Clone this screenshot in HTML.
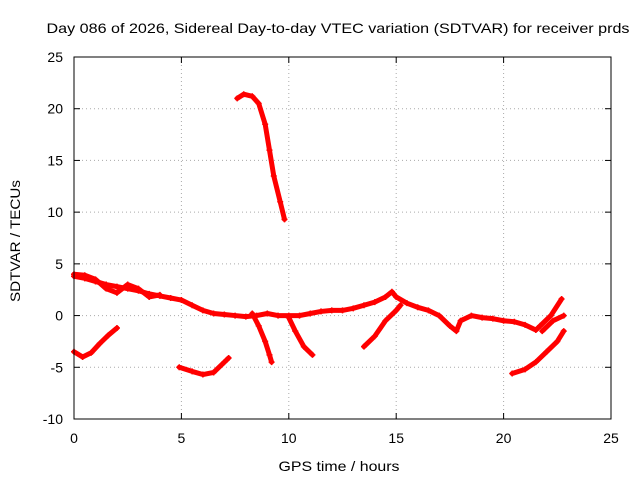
<!DOCTYPE html>
<html><head><meta charset="utf-8"><style>
body{margin:0;background:#fff}
svg{display:block;font-family:"Liberation Sans",sans-serif}
</style></head><body>
<svg id="chart" width="640" height="480">
<text x="338" y="33" text-anchor="middle" font-size="14" textLength="583" lengthAdjust="spacingAndGlyphs">Day 086 of 2026, Sidereal Day-to-day VTEC variation (SDTVAR) for receiver prds</text>
<text x="339" y="471" text-anchor="middle" font-size="14" textLength="121" lengthAdjust="spacingAndGlyphs">GPS time / hours</text>
<text transform="translate(20,241) rotate(-90)" text-anchor="middle" font-size="14" textLength="122" lengthAdjust="spacingAndGlyphs">SDTVAR / TECUs</text>
<g id="grid"></g><g id="ticks"></g><g id="marks"></g>
<rect x="74" y="57" width="537" height="362" fill="none" stroke="#000"/>
</svg>
<script>
const xTicks=[0,5,10,15,20,25];
const yTicks=[-10,-5,0,5,10,15,20,25];
const s1=[[0,3.8],[0.5,3.6],[1,3.3],[1.5,3.0],[2,2.8],[2.5,2.6],[3,2.4],[3.5,2.1],[4,1.9],[4.5,1.7],[5,1.5],[5.5,1.0],[6,0.5],[6.5,0.2],[7,0.1],[7.5,0],[8,-0.1],[8.5,0],[9,0.2],[9.5,0],[10,0],[10.5,0],[11,0.2],[11.5,0.4],[12,0.5],[12.5,0.5],[13,0.7],[13.5,1.0],[14,1.3],[14.5,1.8],[14.8,2.3],[15,1.8],[15.5,1.2],[16,0.8],[16.5,0.5],[17,0],[17.5,-1],[17.8,-1.5],[18,-0.5],[18.5,0],[19,-0.2],[19.5,-0.3],[20,-0.5],[20.5,-0.6],[21,-0.9],[21.5,-1.4],[21.7,-1.0],[22.2,0],[22.7,1.6]];
const s1b=[[0,4.0],[0.5,3.9],[1,3.5],[1.5,2.6],[2,2.2],[2.5,3.0],[3,2.6],[3.5,1.8],[4,2.0]];
const s2=[[0,-3.5],[0.4,-4.0],[0.8,-3.6],[1.2,-2.7],[1.6,-1.9],[2,-1.2]];
const s3=[[4.9,-5.0],[5.5,-5.4],[6,-5.7],[6.5,-5.5],[7,-4.5],[7.2,-4.1]];
const s4=[[7.6,21],[7.9,21.4],[8.3,21.2],[8.6,20.5],[8.9,18.5],[9.1,16],[9.3,13.5],[9.6,11],[9.8,9.3]];
const s5=[[8.3,0.2],[8.6,-1],[8.9,-2.5],[9.1,-3.8],[9.2,-4.5]];
const s6=[[10,-0.2],[10.3,-1.5],[10.7,-3],[11.1,-3.8]];
const s7=[[13.5,-3],[14,-2],[14.5,-0.5],[15,0.5],[15.2,1]];
const s8=[[20.4,-5.6],[21,-5.2],[21.5,-4.5],[22,-3.5],[22.5,-2.5],[22.8,-1.5]];
const s9=[[21.8,-1.5],[22.3,-0.5],[22.8,0]];
const series=[s1,s1b,s2,s3,s4,s5,s6,s7,s8,s9];
const X=v=>74+(v-0)/25*537;
const Y=v=>419-(v+10)/35*362;
const NS="http://www.w3.org/2000/svg";
function mk(t,a,p){const e=document.createElementNS(NS,t);for(const k in a)e.setAttribute(k,a[k]);p.appendChild(e);return e;}
const grid=document.getElementById('grid'),ticks=document.getElementById('ticks'),marks=document.getElementById('marks');
xTicks.forEach(t=>{const x=X(t);
 if(t>0&&t<25){const g=mk('line',{x1:x,x2:x,y1:57,y2:419,stroke:'#aaa','stroke-dasharray':'1,3'},grid);
 
 }
 mk('line',{x1:x,x2:x,y1:419,y2:413,stroke:'#000'},ticks);mk('line',{x1:x,x2:x,y1:57,y2:63,stroke:'#000'},ticks);
 const l=mk('text',{x:x,y:443,'text-anchor':'middle','font-size':14},ticks);l.textContent=t;
 
 });
yTicks.forEach(t=>{const y=Y(t);
 if(t>-10&&t<25){const g=mk('line',{x1:74,x2:611,y1:y,y2:y,stroke:'#aaa','stroke-dasharray':'1,3'},grid);
 
 }
 mk('line',{x1:74,x2:80,y1:y,y2:y,stroke:'#000'},ticks);mk('line',{x1:605,x2:611,y1:y,y2:y,stroke:'#000'},ticks);
 const l=mk('text',{x:63,y:y+5,'text-anchor':'end','font-size':14},ticks);l.textContent=t;
 
 });
series.forEach((s,i)=>{
 const p=mk('polyline',{points:s.map(d=>X(d[0])+','+Y(d[1])).join(' '),fill:'none',stroke:'#f00','stroke-width':5,'stroke-linejoin':'round','stroke-linecap':'round'},marks);
 
 
 s.forEach(d=>{const x=X(d[0]),y=Y(d[1]);
  const m=mk('path',{d:`M${x-3},${y}H${x+3}M${x},${y-3}V${y+3}`,stroke:'#f00','stroke-width':1.5},marks);
  
  });
});
</script>
</body></html>
